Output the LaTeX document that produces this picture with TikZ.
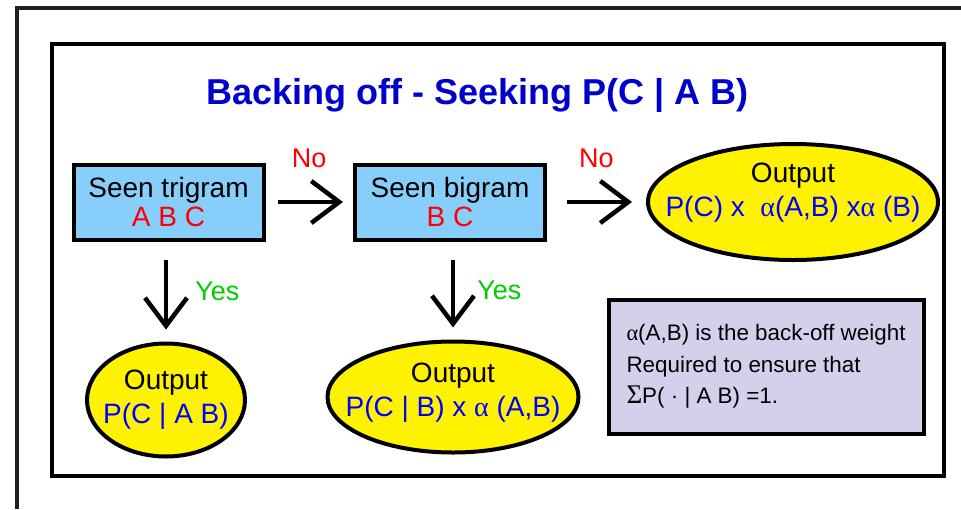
\documentclass[tikz,border=0pt]{standalone}
\usepackage{fontspec}
\setmainfont{Liberation Sans}
\newfontfamily\grk{Liberation Serif}
\usepackage{tikz}
\usetikzlibrary{arrows.meta}
\usetikzlibrary{shapes.geometric}
\usetikzlibrary{positioning}
\definecolor{titleblue}{RGB}{0,0,204}
\definecolor{outblue}{RGB}{0,0,255}
\definecolor{boxblue}{RGB}{135,206,250}
\definecolor{notelilac}{RGB}{212,208,236}
\definecolor{yesgreen}{RGB}{0,204,0}
\definecolor{framegray}{RGB}{35,31,32}
\newcommand{\alf}{{\grk α}}
\tikzset{>={Straight Barb[length=28pt,width=42pt]}}
\tikzset{
  seenbox/.style={draw,line width=4pt,fill=boxblue,rectangle,inner sep=0pt,
    minimum width=190,minimum height=75,align=center,
    font=\fontsize{28}{29}\selectfont},
  outoval/.style={draw,line width=4pt,fill=yellow,ellipse,inner xsep=-40pt,inner ysep=0pt,
    align=center,font=\fontsize{28}{34}\selectfont},
  notebox/.style={draw,line width=4pt,fill=notelilac,rectangle,inner sep=0pt,
    minimum width=315,minimum height=134,align=left,
    font=\fontsize{22.4}{31.5}\selectfont},
  flow/.style={->,line width=4.5pt},
  nolabel/.style={text=red,inner sep=0pt,font=\fontsize{27}{29}\selectfont},
  yeslabel/.style={text=yesgreen,inner sep=0pt,font=\fontsize{27}{29}\selectfont}
}

\begin{document}
\begin{tikzpicture}[x=1pt,y=-1pt]
  \useasboundingbox (0,0) rectangle (961,509);

  % frames
  \draw[framegray,line width=4pt] (17,509) -- (17,8) -- (961,8);
  \draw[line width=4pt] (52,44) rectangle (944,476);

  \node[text=titleblue,font=\fontsize{36}{40}\selectfont\bfseries] (title) at (477.5,95)
    {Backing off - Seeking P(C | A B)};

  % decisions
  \node[seenbox] (trigram) at (168.5,202) {Seen trigram\\\textcolor{red}{A B C}};
  \node[seenbox] (bigram) at (450,202) {Seen bigram\\\textcolor{red}{B C}};

  % outputs
  \node[outoval,minimum width=290,minimum height=116,text depth=24pt] (outbackoff) at (793,202)
    {Output\\\textcolor{outblue}{P(C) x \ \alf(A,B) x\alf\ (B)}};
  \node[outoval,minimum width=158,minimum height=113] (outtri) at (166,400)
    {Output\\\textcolor{outblue}{P(C | A B)}};
  \node[outoval,minimum width=251,minimum height=111,text depth=14pt] (outbi) at (453,397)
    {Output\\\textcolor{outblue}{P(C | B) x \alf\ (A,B)}};

  \node[notebox] (note) at (766,366.5)
    {\alf(A,B) is the back-off weight\\Required to ensure that\\{\grk\fontsize{27}{31.5}\selectfont Σ}P( · | A B) =1.};

  % connectors
  \draw[flow,shorten <=12pt,shorten >=10pt] (trigram) -- node[nolabel,above=32pt] (notri) {No} (bigram);
  \draw[flow,shorten <=20pt,shorten >=14pt] (bigram) -- node[nolabel,above=32pt] (nobi) {No} (outbackoff);
  \draw[flow,shorten <=18pt,shorten >=12pt] (trigram.south -| outtri) -- node[yeslabel,right=27pt] (yestri) {Yes} (outtri);
  \draw[flow,shorten <=18pt,shorten >=12pt] (bigram.south -| outbi) -- node[yeslabel,right=22pt] (yesbi) {Yes} (outbi);

\end{tikzpicture}
\end{document}
